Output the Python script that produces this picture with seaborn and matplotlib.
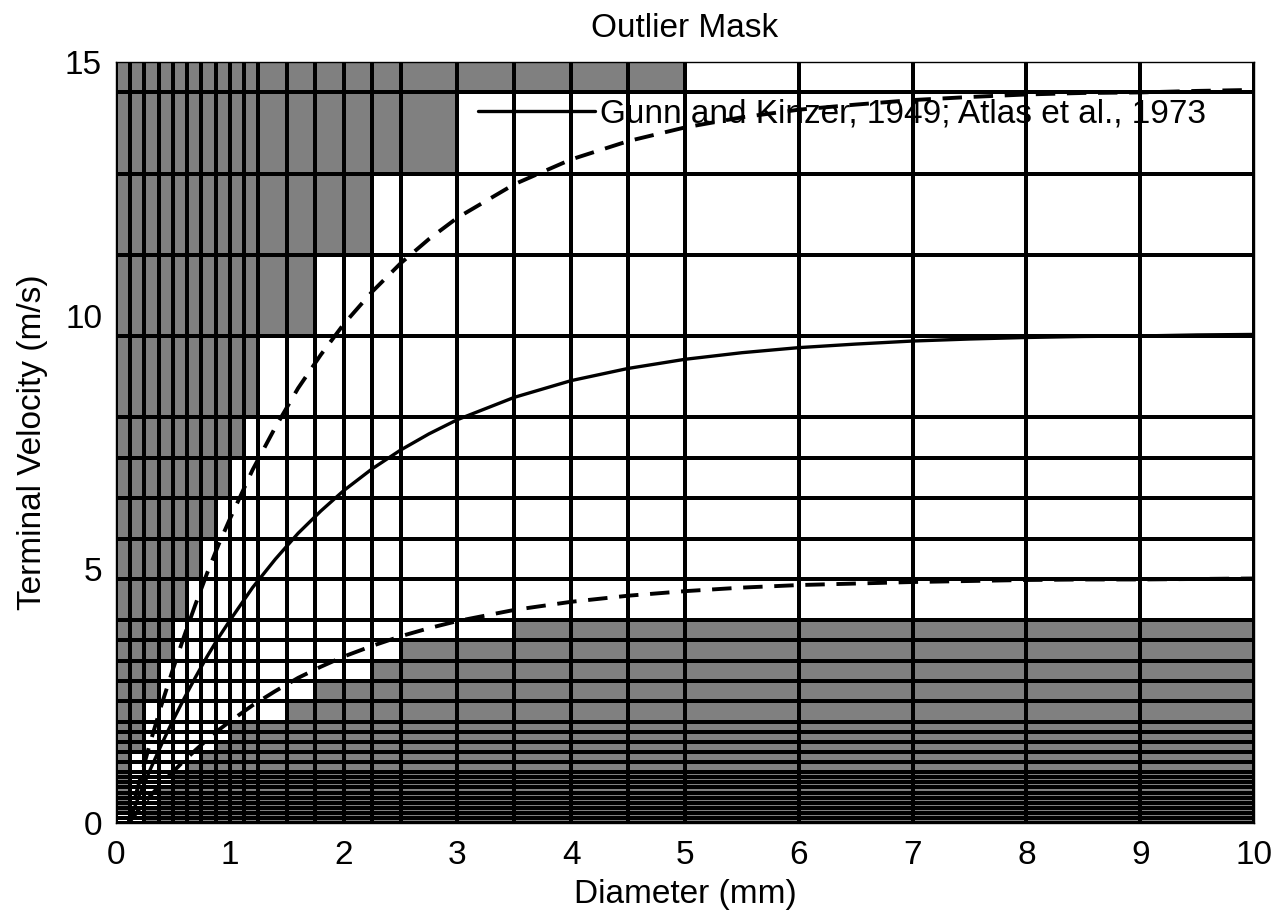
import numpy as np
import matplotlib
matplotlib.use("Agg")
import matplotlib.pyplot as plt
import seaborn as sns
from matplotlib.colors import ListedColormap

# ---------------- data ----------------
diameter_edges = [0.0, 0.125, 0.25, 0.375, 0.5, 0.625, 0.75, 0.875, 1.0, 1.125, 1.25,
                  1.5, 1.75, 2.0, 2.25, 2.5, 3.0, 3.5, 4.0, 4.5, 5.0,
                  6.0, 7.0, 8.0, 9.0, 10.0]
velocity_edges = [0.0, 0.1, 0.2, 0.3, 0.4, 0.5, 0.6, 0.7, 0.8, 0.9, 1.0,
                  1.2, 1.4, 1.6, 1.8, 2.0, 2.4, 2.8, 3.2, 3.6, 4.0,
                  4.8, 5.6, 6.4, 7.2, 8.0, 9.6, 11.2, 12.8, 14.4, 16.0]
# per diameter class: cells starting at/above this velocity are masked
mask_upper = [0.2, 1.4, 2.4, 3.2, 4.0, 4.8, 5.6, 6.4, 7.2, 8.0, 9.6, 9.6, 11.2, 11.2,
              12.8, 12.8, 14.4, 14.4, 14.4, 14.4, 16.0, 16.0, 16.0, 16.0, 16.0]
# per diameter class: cells ending at/below this velocity are masked
mask_lower = [0.0, 0.0, 0.3, 0.7, 1.0, 1.2, 1.4, 1.6, 2.0, 2.0, 2.0, 2.4, 2.8, 2.8,
              3.2, 3.6, 3.6, 4.0, 4.0, 4.0, 4.0, 4.0, 4.0, 4.0, 4.0]

curve_d = [0.1, 0.2, 0.3, 0.4, 0.5, 0.6, 0.7, 0.8, 0.9, 1.0, 1.2, 1.4, 1.6, 1.8,
           2.0, 2.25, 2.5, 2.75, 3.0, 3.5, 4.0, 4.5, 5.0, 5.5, 6.0, 6.5, 7.0,
           7.5, 8.0, 8.5, 9.0, 9.5, 10.0]
gk_velocity = [-0.05, 0.52, 1.05, 1.55, 2.02, 2.46, 2.88, 3.28, 3.65, 3.99, 4.64, 5.20,
               5.71, 6.15, 6.55, 6.98, 7.35, 7.67, 7.95, 8.39, 8.72, 8.96, 9.14,
               9.27, 9.37, 9.44, 9.50, 9.54, 9.57, 9.59, 9.60, 9.62, 9.63]
upper_velocity = [-0.08, 0.77, 1.58, 2.33, 3.03, 3.69, 4.32, 4.92, 5.48, 5.99, 6.96,
                  7.80, 8.57, 9.23, 9.83, 10.47, 11.03, 11.51, 11.93, 12.59, 13.08,
                  13.44, 13.71, 13.91, 14.06, 14.16, 14.25, 14.31, 14.36, 14.39,
                  14.40, 14.43, 14.45]
lower_velocity = [-0.03, 0.26, 0.53, 0.78, 1.01, 1.23, 1.44, 1.64, 1.83, 2.00, 2.32,
                  2.60, 2.86, 3.08, 3.28, 3.49, 3.68, 3.84, 3.98, 4.20, 4.36, 4.48,
                  4.57, 4.64, 4.69, 4.72, 4.75, 4.77, 4.79, 4.80, 4.80, 4.81, 4.82]

x_ticks = [0, 1, 2, 3, 4, 5, 6, 7, 8, 9, 10]
y_ticks = [0, 5, 10, 15]

# ---------------- style ----------------
sns.set_theme(style="white")
plt.rcParams['font.family'] = ['Liberation Sans', 'DejaVu Sans']
plt.rcParams['text.color'] = 'black'
FS = 24

fig = plt.figure(figsize=(12.74, 9.17), dpi=100)
fig.patch.set_facecolor('white')
ax = fig.add_axes([116 / 1274, 94 / 917, 1138 / 1274, 761 / 917])

de = np.array(diameter_edges)
ve = np.array(velocity_edges)
v_lo = ve[:-1][:, None]
v_hi = ve[1:][:, None]
mask = (v_lo >= np.array(mask_upper)[None, :] - 1e-9) | \
       (v_hi <= np.array(mask_lower)[None, :] + 1e-9)

ax.pcolormesh(de, ve, mask.astype(float),
              cmap=ListedColormap(['white', '#808080']), vmin=0, vmax=1,
              edgecolors='black', linewidth=1.5)

sns.lineplot(x=curve_d, y=upper_velocity, ax=ax, color='black', linewidth=2.8,
             linestyle=(0, (5, 3)), label='_nolegend_')
sns.lineplot(x=curve_d, y=lower_velocity, ax=ax, color='black', linewidth=2.8,
             linestyle=(0, (5, 3)), label='_nolegend_')
sns.lineplot(x=curve_d, y=gk_velocity, ax=ax, color='black', linewidth=2.4,
             label='Gunn and Kinzer, 1949; Atlas et al., 1973')

ax.set_xlim(0, 10)
ax.set_ylim(0, 15)
ax.set_xticks(x_ticks)
ax.set_yticks(y_ticks)
ax.tick_params(axis='both', length=0, labelsize=FS, colors='black')
ax.tick_params(axis='x', pad=12)
ax.tick_params(axis='y', pad=10)
for sp in ax.spines.values():
    sp.set_color('black')
    sp.set_linewidth(1.0)

ax.set_title('Outlier Mask', fontsize=FS, pad=18, color='black')
ax.set_xlabel('Diameter (mm)', fontsize=FS, labelpad=6, color='black')
ax.set_ylabel('Terminal Velocity (m/s)', fontsize=FS, labelpad=12, color='black')

leg = ax.legend(loc='center left', bbox_to_anchor=(0.318, 0.932), frameon=False,
                fontsize=24, handlelength=3.5, handletextpad=0.15, borderpad=0,
                borderaxespad=0, labelcolor='black')

fig.savefig('out.png', dpi=100, facecolor='white')
